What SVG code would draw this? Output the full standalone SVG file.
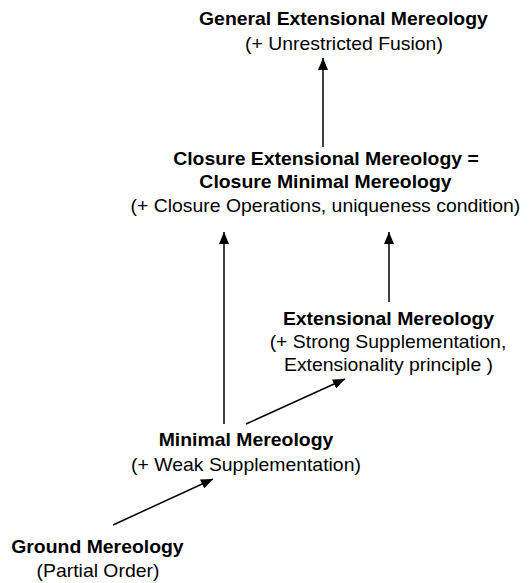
<svg xmlns="http://www.w3.org/2000/svg" width="529" height="583" viewBox="0 0 529 583">
<style>
text{font-family:"Liberation Sans",Arial,sans-serif;font-size:18px;fill:#000;text-anchor:middle}
.b{font-weight:bold}
.c line{stroke:#000;stroke-width:1.5}
</style>
<defs>
<marker id="ah" viewBox="0 0 12 10" refX="12" refY="5" markerWidth="12" markerHeight="10" markerUnits="userSpaceOnUse" orient="auto">
<path d="M0,0L12,5L0,10z" fill="#000"/>
</marker>
</defs>
<rect width="529" height="583" fill="#fff"/>
<g class="c">
<line x1="323" y1="147" x2="323" y2="58" marker-end="url(#ah)"/>
<line x1="224" y1="424" x2="224" y2="232" marker-end="url(#ah)"/>
<line x1="389" y1="302" x2="389" y2="232" marker-end="url(#ah)"/>
<line x1="246" y1="424" x2="345" y2="379" marker-end="url(#ah)"/>
<line x1="113" y1="525" x2="213" y2="479" marker-end="url(#ah)"/>
</g>
<g id="gem" transform="scale(1.078 1)"><text x="318.6" y="25" class="b">General Extensional Mereology</text><text x="319.1" y="50">(+ Unrestricted Fusion)</text></g>
<g id="cem" transform="scale(1.078 1)"><text x="302.4" y="165" class="b">Closure Extensional Mereology =</text><text x="301.9" y="188" class="b">Closure Minimal Mereology</text><text x="301.9" y="212">(+ Closure Operations, uniqueness condition)</text></g>
<g id="em" transform="scale(1.078 1)"><text x="360.4" y="325" class="b">Extensional Mereology</text><text x="359.9" y="348">(+ Strong Supplementation,</text><text x="360.4" y="371">Extensionality principle )</text></g>
<g id="mm" transform="scale(1.078 1)"><text x="228.2" y="446" class="b">Minimal Mereology</text><text x="228.2" y="471">(+ Weak Supplementation)</text></g>
<g id="gm" transform="scale(1.078 1)"><text x="90.4" y="553" class="b">Ground Mereology</text><text x="90.9" y="577">(Partial Order)</text></g>
</svg>
